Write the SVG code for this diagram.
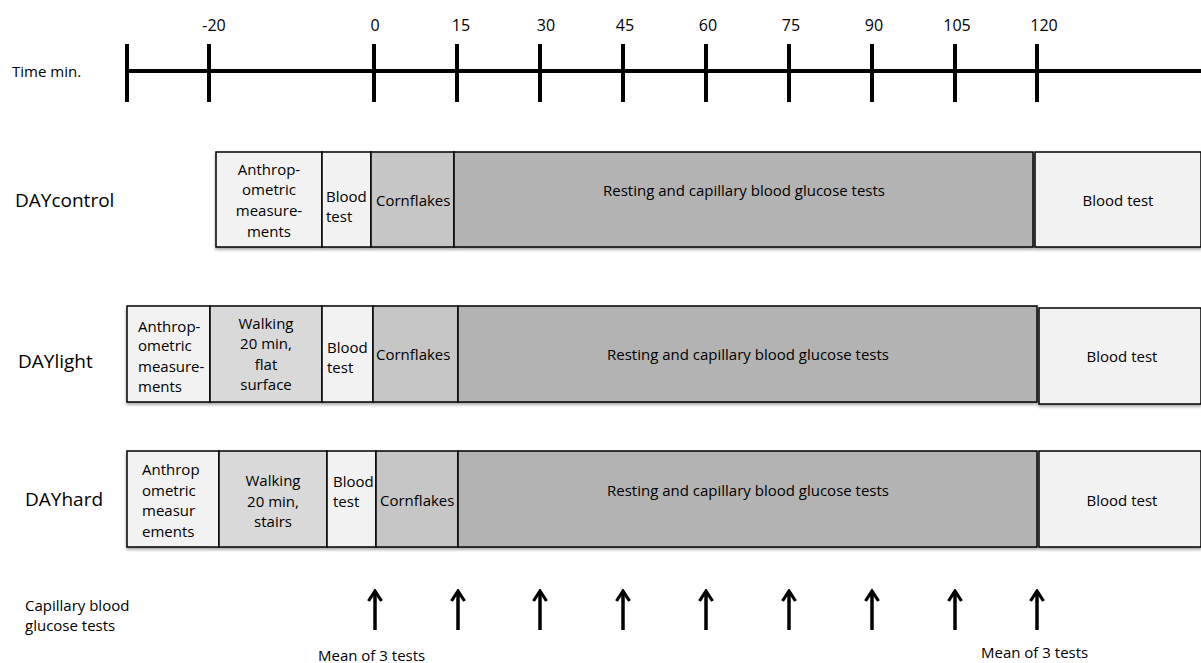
<svg xmlns="http://www.w3.org/2000/svg" width="1201" height="663" viewBox="0 0 1201 663">
<style>
text{font-family:"Open Sans","Liberation Sans",sans-serif;fill:#000}
.t{font-size:15px}
.tk{font-size:16px}
.lbl{font-size:19px}
.c{text-anchor:middle}
.b{stroke:#000;stroke-width:1.5}
.w1{fill:#f2f2f2}
.w2{fill:#d9d9d9}
.w3{fill:#c6c6c6}
.w4{fill:#b3b3b3}
.ax{stroke:#000;stroke-width:4;fill:none}
.arr{stroke:#000;stroke-width:3.5;fill:none}
</style>
<defs>
<filter id="sh" x="-5%" y="-10%" width="110%" height="130%">
<feDropShadow dx="0" dy="2" stdDeviation="1.5" flood-color="#000" flood-opacity="0.35"/>
</filter>
<marker id="ah" viewBox="0 0 14 16" refX="11.5" refY="8" markerWidth="14" markerHeight="16" markerUnits="userSpaceOnUse" orient="auto">
<path d="M1.5,1.5 L11.5,8 L1.5,14.5" fill="none" stroke="#000" stroke-width="3.2"/>
</marker>
</defs>
<rect width="1201" height="663" fill="#fff"/>

<g id="timeline">
<text class="t" x="12" y="77">Time min.</text>
<line class="ax" x1="127" y1="71" x2="1201" y2="71"/>
<g class="ax">
<line x1="127" y1="44" x2="127" y2="102"/>
<line x1="209" y1="44" x2="209" y2="102"/>
<line x1="374" y1="44" x2="374" y2="102"/>
<line x1="457" y1="44" x2="457" y2="102"/>
<line x1="540" y1="44" x2="540" y2="102"/>
<line x1="623" y1="44" x2="623" y2="102"/>
<line x1="706" y1="44" x2="706" y2="102"/>
<line x1="789" y1="44" x2="789" y2="102"/>
<line x1="872" y1="44" x2="872" y2="102"/>
<line x1="955" y1="44" x2="955" y2="102"/>
<line x1="1037" y1="44" x2="1037" y2="102"/>
</g>
<g class="tk c">
<text x="214" y="31">-20</text>
<text x="375" y="31">0</text>
<text x="461" y="31">15</text>
<text x="546" y="31">30</text>
<text x="625" y="31">45</text>
<text x="708" y="31">60</text>
<text x="791" y="31">75</text>
<text x="874" y="31">90</text>
<text x="957" y="31">105</text>
<text x="1044" y="31">120</text>
</g>
</g>

<g id="daycontrol">
<text class="lbl" x="15" y="207">DAYcontrol</text>
<g filter="url(#sh)">
<rect class="b w1" x="216" y="152" width="106" height="95"/>
<rect class="b w1" x="322" y="152" width="49" height="95"/>
<rect class="b w3" x="371" y="152" width="83" height="95"/>
<rect class="b w4" x="454" y="152" width="579" height="95"/>
<rect class="b w1" x="1035" y="152" width="166" height="95"/>
</g>
<g class="t c">
<text x="269" y="175">Anthrop-</text>
<text x="269" y="195">ometric</text>
<text x="269" y="216">measure-</text>
<text x="269" y="237">ments</text>
</g>
<text class="t" x="326" y="202">Blood</text>
<text class="t" x="326" y="222">test</text>
<text class="t" x="376" y="206">Cornflakes</text>
<text class="t c" x="744" y="196">Resting and capillary blood glucose tests</text>
<text class="t c" x="1118" y="206">Blood test</text>
</g>

<g id="daylight">
<text class="lbl" x="18" y="368">DAYlight</text>
<g filter="url(#sh)">
<rect class="b w1" x="127" y="306" width="83" height="96"/>
<rect class="b w2" x="210" y="306" width="112" height="96"/>
<rect class="b w1" x="322" y="306" width="51" height="96"/>
<rect class="b w3" x="373" y="306" width="85" height="96"/>
<rect class="b w4" x="458" y="306" width="579" height="96"/>
<rect class="b w1" x="1039" y="308" width="162" height="96"/>
</g>
<text class="t" x="138" y="332">Anthrop-</text>
<text class="t" x="138" y="351">ometric</text>
<text class="t" x="138" y="372">measure-</text>
<text class="t" x="138" y="392">ments</text>
<g class="t c">
<text x="266" y="329">Walking</text>
<text x="266" y="349">20 min,</text>
<text x="266" y="370">flat</text>
<text x="266" y="390">surface</text>
</g>
<text class="t" x="327" y="353">Blood</text>
<text class="t" x="327" y="373">test</text>
<text class="t" x="376" y="360">Cornflakes</text>
<text class="t c" x="748" y="360">Resting and capillary blood glucose tests</text>
<text class="t c" x="1122" y="362">Blood test</text>
</g>

<g id="dayhard">
<text class="lbl" x="25" y="506">DAYhard</text>
<g filter="url(#sh)">
<rect class="b w1" x="127" y="451" width="92" height="96"/>
<rect class="b w2" x="219" y="451" width="108" height="96"/>
<rect class="b w1" x="327" y="451" width="49" height="96"/>
<rect class="b w3" x="376" y="451" width="82" height="96"/>
<rect class="b w4" x="458" y="451" width="579" height="96"/>
<rect class="b w1" x="1039" y="451" width="162" height="96"/>
</g>
<text class="t" x="142" y="475">Anthrop</text>
<text class="t" x="142" y="496">ometric</text>
<text class="t" x="142" y="516">measur</text>
<text class="t" x="142" y="537">ements</text>
<g class="t c">
<text x="273" y="486">Walking</text>
<text x="273" y="507">20 min,</text>
<text x="273" y="527">stairs</text>
</g>
<text class="t" x="333" y="487">Blood</text>
<text class="t" x="333" y="507">test</text>
<text class="t" x="380" y="506">Cornflakes</text>
<text class="t c" x="748" y="496">Resting and capillary blood glucose tests</text>
<text class="t c" x="1122" y="506">Blood test</text>
</g>

<g id="tests">
<text class="t" x="25" y="611">Capillary blood</text>
<text class="t" x="25" y="631">glucose tests</text>
<text class="t" x="318" y="661">Mean of 3 tests</text>
<text class="t" x="981" y="658">Mean of 3 tests</text>
</g>

<g id="connectors" class="arr">
<line x1="375" y1="630" x2="375" y2="591" marker-end="url(#ah)"/>
<line x1="458" y1="630" x2="458" y2="591" marker-end="url(#ah)"/>
<line x1="540" y1="630" x2="540" y2="591" marker-end="url(#ah)"/>
<line x1="623" y1="630" x2="623" y2="591" marker-end="url(#ah)"/>
<line x1="706" y1="630" x2="706" y2="591" marker-end="url(#ah)"/>
<line x1="789" y1="630" x2="789" y2="591" marker-end="url(#ah)"/>
<line x1="872" y1="630" x2="872" y2="591" marker-end="url(#ah)"/>
<line x1="955" y1="630" x2="955" y2="591" marker-end="url(#ah)"/>
<line x1="1037" y1="630" x2="1037" y2="591" marker-end="url(#ah)"/>
</g>
</svg>
